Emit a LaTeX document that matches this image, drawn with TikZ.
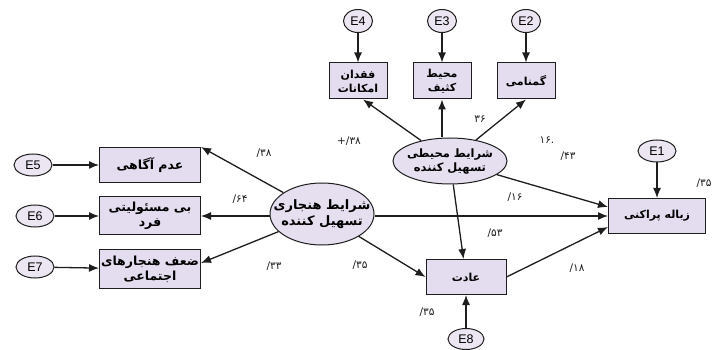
\documentclass[tikz,border=0pt]{standalone}
\usepackage{fontspec}
\newfontfamily\fa[Script=Arabic]{DejaVu Sans}
\newfontfamily\num{DejaVu Sans}
\newfontfamily\lat{Liberation Sans}
\TeXXeTstate=1
\usetikzlibrary{arrows.meta,calc,shapes.geometric}
\definecolor{boxfill}{HTML}{E4DCEF}
\definecolor{latfill}{HTML}{E6DFF0}
\definecolor{errfill}{HTML}{ECE6F3}
\definecolor{ink}{HTML}{1E1E1E}
\newcommand{\ctrtext}[1]{\smash{\makebox[0pt]{\raisebox{-3.5pt}{\begin{tabular}{@{}c@{}}#1\end{tabular}}}}}
\tikzset{
  obs/.style={draw=ink, fill=boxfill, line width=1pt, inner sep=0pt, align=center,
    font=\fa\bfseries\fontsize{11}{14}\selectfont},
  obsw/.style={obs, font=\fa\bfseries\fontsize{12.5}{15}\selectfont},
  latent/.style={ellipse, draw=ink, fill=latfill, line width=1pt, inner sep=0pt,
    font=\fa\bfseries\fontsize{13}{15.5}\selectfont},
  err/.style={ellipse, draw=ink, fill=errfill, line width=1pt, inner sep=0pt,
    minimum width=38, minimum height=22, font=\lat\fontsize{12.5}{13}\selectfont},
  errs/.style={err, minimum width=29, minimum height=23},
  arr/.style={-{Latex[length=10pt,width=8pt]}, line width=1.3pt, draw=ink},
  lbl/.style={font=\num\fontsize{10.5}{11}\selectfont, text=ink, inner sep=1pt}
}
\begin{document}
\begin{tikzpicture}[x=1pt,y=-1pt]
\useasboundingbox (0,0) rectangle (713,350);
\clip (0,0) rectangle (713,350);
\fill[white] (0,0) rectangle (713,350);

% top error terms and indicators
\node[errs] (E4) at (358,21) {E4};
\node[errs] (E3) at (442,21) {E3};
\node[errs] (E2) at (526,21) {E2};
\node[obs, minimum width=58, minimum height=36] (b1) at (358,81) {\beginR فقدان\endR\\\beginR امکانات\endR};
\node[obs, minimum width=58, minimum height=36] (b2) at (442,81) {\beginR محیط\endR\\\beginR کثیف\endR};
\node[obs, minimum width=58, minimum height=36] (b3) at (526,81) {\beginR گمنامی\endR};

% latent variables
\node[latent, minimum width=114, minimum height=46, font=\fa\bfseries\fontsize{11.5}{14}\selectfont] (env) at (450,161)
  {\ctrtext{\beginR شرایط محیطی\endR\\\beginR تسهیل کننده\endR}};
\node[latent, minimum width=104, minimum height=62] (norm) at (322,214)
  {\ctrtext{\beginR شرایط هنجاری\endR\\\beginR تسهیل کننده\endR}};

% left indicators
\node[obsw, minimum width=101, minimum height=35] (l1) at (150,165) {\beginR عدم آگاهی\endR};
\node[obsw, minimum width=101, minimum height=38] (l2) at (150,216) {\beginR بی مسئولیتی\endR\\\beginR فرد\endR};
\node[obsw, minimum width=101, minimum height=38] (l3) at (150,269) {\beginR ضعف هنجارهای\endR\\\beginR اجتماعی\endR};
\node[err] (E5) at (33,165) {E5};
\node[err] (E6) at (35,216) {E6};
\node[err] (E7) at (35,267) {E7};

% outcome and habit
\node[obs, minimum width=97, minimum height=35] (target) at (657,216) {\beginR زباله پراکنی\endR};
\node[err] (E1) at (657,151) {E1};
\node[obs, minimum width=80, minimum height=35] (habit) at (466,277) {\beginR عادت\endR};
\node[err, minimum width=36, minimum height=21] (E8) at (466,339) {E8};

% arrows
\draw[arr] (E4) -- (b1);
\draw[arr] (E3) -- (b2);
\draw[arr] (E2) -- (b3);
\draw[arr] (env) -- ($(b1.south)+(5,0)$);
\draw[arr] (b2.south |- env.north) -- (b2.south);
\draw[arr] (env) -- (b3.south);
\draw[arr] (env) -- ($(target.west)+(0,-9)$);
\draw[arr] (env) -- (habit);
\draw[arr] (norm) -- (l1.north east);
\draw[arr] (norm.west |- l2.east) -- (l2.east);
\draw[arr] (norm) -- ($(l3.east)+(0,-6)$);
\draw[arr] (norm) -- (habit.west);
\draw[arr] (norm.east |- target.west) -- (target.west);
\draw[arr] (habit.east) -- ($(target.west)+(0,11)$);
\draw[arr] (E1) -- (target);
\draw[arr] (E8) -- (habit);
\draw[arr] (E5) -- (l1);
\draw[arr] (E6) -- (l2);
\draw[arr] (E7) -- (l3);

% coefficients
\node[lbl] (c1) at (264,153) {/۳۸};
\node[lbl] (c2) at (240,199) {/۶۴};
\node[lbl] (c3) at (274,266) {/۳۳};
\node[lbl] (c4) at (360,265) {/۳۵};
\node[lbl] (c5) at (349,141) {+/۳۸};
\node[lbl] (c6) at (480,119) {۳۶};
\node[lbl] (c7) at (547,140) {۱۶.};
\node[lbl] (c8) at (568,156) {/۴۳};
\node[lbl] (c9) at (515,197) {/۱۶};
\node[lbl] (c10) at (495,233) {/۵۳};
\node[lbl] (c11) at (577,268) {/۱۸};
\node[lbl] (c12) at (427,312) {/۳۵};
\node[lbl] (c13) at (704,183) {/۳۵};
\end{tikzpicture}
\end{document}
